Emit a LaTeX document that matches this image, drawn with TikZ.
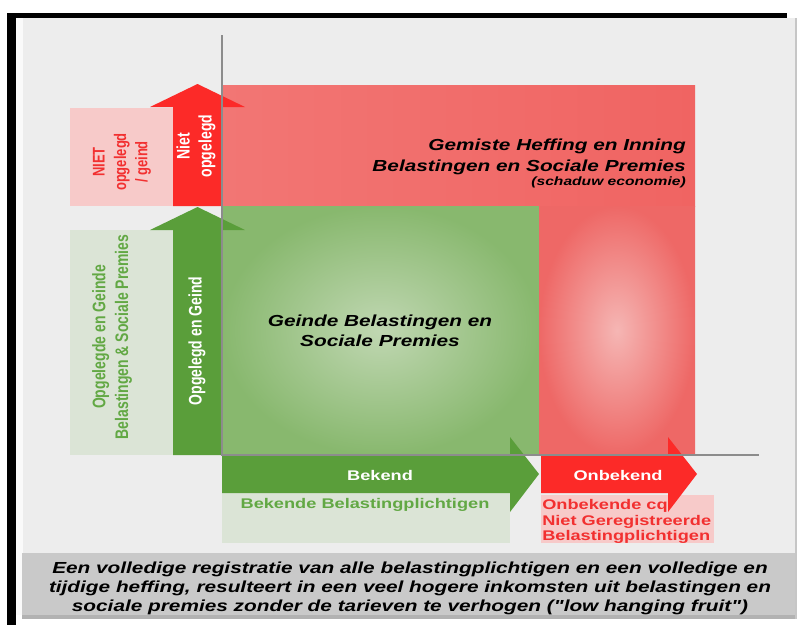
\documentclass[tikz,border=0pt]{standalone}
\usepackage{fontspec}
\setmainfont{Liberation Sans}[Ligatures=TeXOff]
\definecolor{arrowred}{RGB}{252,42,40}
\definecolor{arrowgreen}{RGB}{90,158,58}
\definecolor{pinkbox}{RGB}{247,202,201}
\definecolor{greenbox}{RGB}{219,228,214}
\definecolor{panelgray}{RGB}{237,237,237}
\definecolor{captiongray}{RGB}{201,201,201}
\definecolor{labelgreen}{RGB}{98,168,68}
\definecolor{labelred}{RGB}{242,48,48}
\definecolor{bandleft}{RGB}{242,118,116}
\definecolor{bandmid}{RGB}{246,170,168}
\definecolor{bandright}{RGB}{240,100,98}
\definecolor{greenin}{RGB}{192,215,178}
\definecolor{greenout}{RGB}{136,184,110}
\definecolor{redin}{RGB}{245,182,180}
\definecolor{redout}{RGB}{238,104,102}
\tikzset{
  htext/.style={xscale=1.3, inner sep=0pt, font=\bfseries},
  vtext/.style={rotate=90, yscale=1.3, inner sep=0pt, align=center, font=\bfseries},
  axisline/.style={draw=gray!90, line width=1.4pt}
}
\begin{document}
\begin{tikzpicture}[x=1pt, y=-1pt]
\useasboundingbox (0,0) rectangle (800,625);
\fill[white] (0,0) rectangle (800,625);
\fill[black] (8,13) rectangle (787,18);
\fill[black] (7,13) rectangle (16,625);
\fill[panelgray] (16,18) rectangle (796,615);
\fill[white!70!panelgray] (16,18) rectangle (23,615);
\fill[gray!60] (22,615) rectangle (796,619);
\fill[gray!45] (795,18) rectangle (797,619);
\fill[captiongray] (22,553) rectangle (795,615);

\shade[left color=bandleft, middle color=bandmid, right color=bandright] (222,85) rectangle (695,206);
\shade[inner color=greenin, outer color=greenout] (222,206) rectangle (539,455);
\shade[inner color=redin, outer color=redout] (539,206) rectangle (695,455);

\fill[pinkbox] (70,108) rectangle (173,206);
\fill[greenbox] (70,230) rectangle (173,455);
\fill[greenbox] (222,493) rectangle (510,543);
\fill[pinkbox] (541,495) rectangle (714,543);

\fill[arrowred] (173,206) -- (173,107) -- (150,107) -- (197.5,84) -- (245,107) -- (222,107) -- (222,206) -- cycle;
\fill[arrowgreen] (173,455) -- (173,230) -- (150,230) -- (197.5,207) -- (245,230) -- (222,230) -- (222,455) -- cycle;
\fill[arrowgreen] (222,455) -- (510,455) -- (510,437) -- (539,474) -- (510,512) -- (510,493) -- (222,493) -- cycle;
\fill[arrowred] (541,455) -- (668,455) -- (668,437) -- (697,474) -- (668,512) -- (668,493) -- (541,493) -- cycle;

\coordinate (ytop) at (222,35);
\coordinate (origin) at (222,455);
\coordinate (xend) at (759,455);
\draw[axisline] (ytop) -- (origin) -- (xend);

\node[htext, anchor=east, align=right, font=\bfseries\itshape\fontsize{16}{21}\selectfont] (gemist) at (686,156.5) {Gemiste Heffing en Inning\\Belastingen en Sociale Premies};
\node[htext, anchor=base east, font=\bfseries\itshape\fontsize{12}{14}\selectfont] (schaduw) at (686,185) {(schaduw economie)};
\node[htext, align=center, font=\bfseries\itshape\fontsize{16}{20}\selectfont] (geind) at (380,331) {Geinde Belastingen en\\Sociale Premies};

\node[vtext, text=white, font=\bfseries\fontsize{14}{17}\selectfont] (nietop) at (196,146) {Niet\\opgelegd};
\node[vtext, text=white, font=\bfseries\fontsize{14}{17}\selectfont] (opgeind) at (197,341) {Opgelegd en Geind};
\node[vtext, text=labelred, font=\bfseries\fontsize{13}{16.5}\selectfont] (nietlabel) at (122,162) {NIET\\opgelegd\\/ geind};
\node[vtext, text=labelgreen, font=\bfseries\fontsize{14}{17.5}\selectfont] (oplabel) at (112,337) {Opgelegde en Geinde\\Belastingen \& Sociale Premies};

\node[htext, anchor=base, text=white, font=\bfseries\fontsize{14}{16}\selectfont] (bekend) at (380,480) {Bekend};
\node[htext, anchor=base, text=white, font=\bfseries\fontsize{14}{16}\selectfont] (onbekend) at (618,480) {Onbekend};
\node[htext, anchor=base, text=labelgreen, font=\bfseries\fontsize{14}{16}\selectfont] (bekendlabel) at (365,508) {Bekende Belastingplichtigen};
\node[htext, anchor=west, align=left, text=labelred, font=\bfseries\fontsize{14}{15.5}\selectfont] (onbekendlabel) at (542,521.5) {Onbekende cq\\Niet Geregistreerde\\Belastingplichtigen};

\node[htext, align=center, font=\bfseries\itshape\fontsize{16}{19}\selectfont] (caption) at (410,588.5) {Een volledige registratie van alle belastingplichtigen en een volledige en\\tijdige heffing, resulteert in een veel hogere inkomsten uit belastingen en\\sociale premies zonder de tarieven te verhogen ("low hanging fruit")};
\end{tikzpicture}
\end{document}
